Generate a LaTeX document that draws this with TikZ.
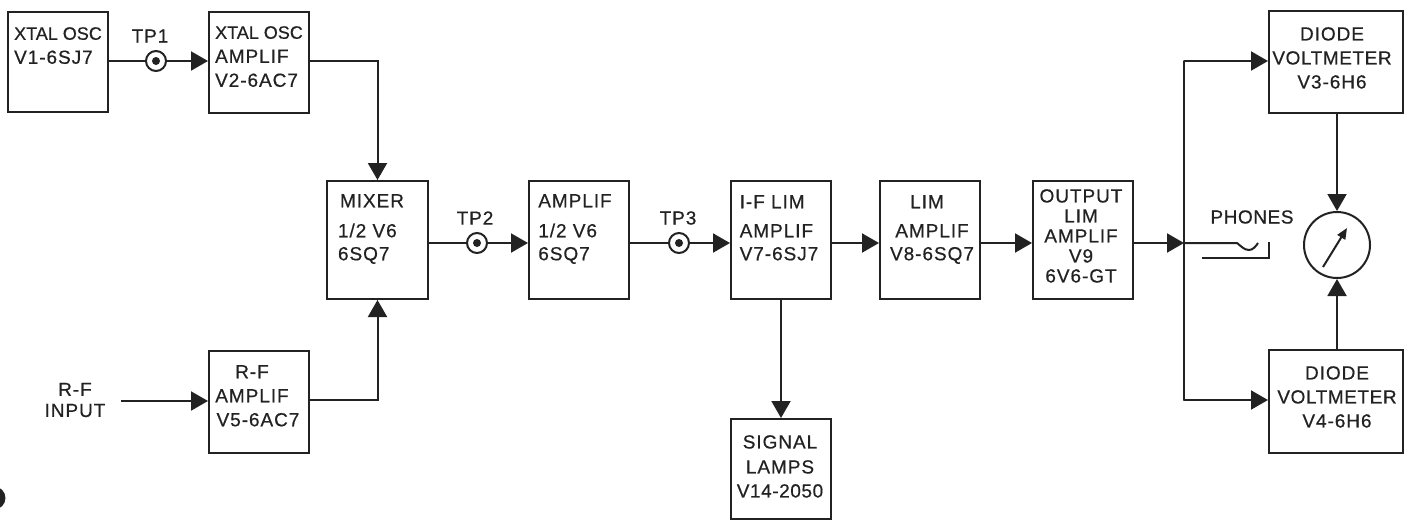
\documentclass[tikz,border=0pt]{standalone}
\usepackage{fontspec}
\setmainfont{Liberation Sans}[LetterSpace=5,RawFeature={embolden=0.5}]
\usetikzlibrary{arrows.meta}
\definecolor{ink}{HTML}{222222}
\tikzset{
  x=1pt,y=-1pt,
  every node/.style={text=ink,font=\fontsize{19}{24}\selectfont},
  block/.style={draw=ink,line width=2pt,rectangle,inner sep=0pt,anchor=north west},
  blocktext/.style={inner sep=0pt,anchor=north},
  tpoint/.style={draw=ink,line width=2pt,circle,minimum size=20pt,inner sep=0pt,fill=white},
  dotc/.style={fill=ink,circle,minimum size=8pt,inner sep=0pt},
  lbl/.style={align=center,inner sep=0pt},
  wire/.style={draw=ink,line width=2pt},
  flow/.style={wire,-{Triangle[length=17pt,width=19pt]}}
}
% name, x, y, w, h, text x, text top, alignment, text
\newcommand{\blk}[9]{\node[block,minimum width=#4 pt,minimum height=#5 pt] (#1) at (#2,#3) {};
  \node[blocktext,align=#8] (#1t) at (#6,#7) {#9};}
\newcommand{\nar}[1]{{\fontsize{18}{24}\selectfont\addfontfeature{LetterSpace=0}#1}}
\newcommand{\medsp}[1]{{\addfontfeature{LetterSpace=3}#1}}
\begin{document}
\begin{tikzpicture}
\useasboundingbox (0,0) rectangle (1408,520);
\fill[white] (0,0) rectangle (1408,520);
\blk{vone}{7}{11}{100}{100}{58}{27}{left}{\nar{XTAL OSC}\\V1-6SJ7}
\blk{vtwo}{208}{11}{100}{101}{259}{26}{left}{\nar{XTAL OSC}\\AMPLIF\\V2-6AC7}
\blk{mix}{326}{180}{101}{118}{371}{194}{left}{\hspace*{2pt}MIXER\\[6pt]1/2 V6\\[-1pt]6SQ7}
\blk{rf}{208}{350}{100}{102}{258}{365}{center}{\hspace*{-12pt}R-F\\\hspace*{-12pt}AMPLIF\\V5-6AC7}
\blk{amp}{528}{180}{100}{118}{575}{194}{left}{AMPLIF\\[6pt]1/2 V6\\[-1pt]6SQ7}
\blk{ifl}{730}{180}{100}{118}{779}{195}{left}{I-F LIM\\[5pt]AMPLIF\\[-1pt]V7-6SJ7}
\blk{lim}{879}{180}{100}{118}{932}{195}{center}{\hspace*{-10pt}LIM\\[5pt]AMPLIF\\[-1pt]V8-6SQ7}
\blk{out}{1032}{180}{100}{118}{1081}{189}{center}{OUTPUT\\[-4pt]LIM\\[-4pt]AMPLIF\\[-4pt]V9\\[-4pt]6V6-GT}
\blk{sig}{730}{418}{100}{100}{780}{435}{center}{SIGNAL\\[1pt]LAMPS\\\medsp{V14-2050}}
\blk{dia}{1268}{10}{134}{102}{1332}{27}{center}{DIODE\\\medsp{VOLTMETER}\\V3-6H6}
\blk{dib}{1268}{349}{134}{103}{1337}{366}{center}{DIODE\\\medsp{VOLTMETER}\\V4-6H6}

\node[tpoint] (tpa) at (156,61) {};
\node[dotc] (tpad) at (tpa) {};
\node[tpoint] (tpb) at (477,243) {};
\node[dotc] (tpbd) at (tpb) {};
\node[tpoint] (tpc) at (679,243) {};
\node[dotc] (tpcd) at (tpc) {};
\node[lbl] (tpal) at (150,36) {TP1};
\node[lbl] (tpbl) at (475,218) {TP2};
\node[lbl] (tpcl) at (678,218) {TP3};
\node[lbl] (rfi) at (75,400) {R-F\\[-3pt]INPUT};
\node[lbl] (ph) at (1252,217) {\medsp{PHONES}};
\node[draw=ink,line width=2pt,circle,minimum size=66pt,inner sep=0pt] (meter) at (1337,245) {};

\coordinate (rfs) at (121,401);
\coordinate (jn) at (1184,243);
\coordinate (ju) at (1184,61);
\coordinate (jd) at (1184,400);
\coordinate (pa) at (1237,243);
\coordinate (pb) at (1258,243);
\coordinate (pc) at (1269,242);
\coordinate (pd) at (1269,258);
\coordinate (pe) at (1202,258);
\coordinate (na) at (1323,267);
\coordinate (nb) at (1347,228);

\draw[wire] (vone.east |- tpa) -- (tpa);
\draw[flow] (tpa) -- (vtwo.west |- tpa);
\draw[flow] (vtwo.east |- tpa) -| (mix.north);
\draw[flow] (rf.east |- jd) -| (mix.south);
\draw[flow] (rfs) -- (rf.west |- rfs);
\draw[wire] (mix.east |- tpb) -- (tpb);
\draw[flow] (tpb) -- (amp.west |- tpb);
\draw[wire] (amp.east |- tpc) -- (tpc);
\draw[flow] (tpc) -- (ifl.west |- tpc);
\draw[flow] (ifl.east |- tpc) -- (lim.west |- tpc);
\draw[flow] (lim.east |- tpc) -- (out.west |- tpc);
\draw[flow] (ifl.south) -- (sig.north);
\draw[flow] (out.east |- jn) -- (jn);
\draw[wire,line cap=round] (ju) -- (jd);
\draw[flow] (ju) -- (dia.west |- ju);
\draw[flow] (jd) -- (dib.west |- jd);
\draw[wire] (jn) -- (pa) .. controls (1241,246) and (1244,250) .. (1249,250) .. controls (1253,250) and (1256,246) .. (pb);
\draw[wire] (pc) -- (pd) -- (pe);
\draw[flow] (dia.south -| meter) -- (meter.north);
\draw[flow] (dib.north -| meter) -- (meter.south);
\draw[draw=ink,line width=2pt,-{Triangle[length=11pt,width=9pt]}] (na) -- (nb);
\fill[ink] (-6,498) circle (11.5);
\end{tikzpicture}
\end{document}
